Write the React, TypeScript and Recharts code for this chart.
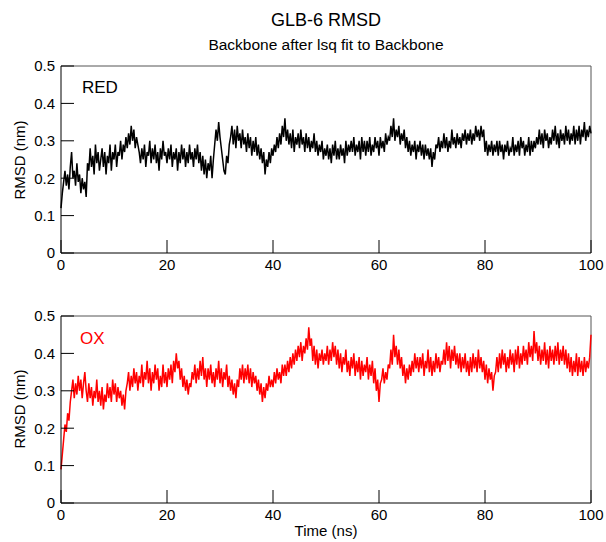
import { LineChart, Line, XAxis, YAxis, ReferenceLine } from 'recharts';

// RMSD (nm), sampled every 0.25 ns from 0 to 100 ns
const redRmsd = [
  0.12, 0.16, 0.19, 0.22, 0.18, 0.21, 0.17, 0.23, 0.27, 0.2,
  0.22, 0.18, 0.24, 0.19, 0.21, 0.16, 0.2, 0.17, 0.19, 0.15,
  0.24, 0.22, 0.28, 0.23, 0.26, 0.21, 0.29, 0.24, 0.27, 0.22,
  0.25, 0.28, 0.23, 0.27, 0.21, 0.26, 0.24, 0.29, 0.22, 0.27,
  0.25, 0.29, 0.23, 0.27, 0.26, 0.3, 0.25, 0.29, 0.27, 0.31,
  0.28, 0.32, 0.29, 0.34, 0.3, 0.33, 0.28, 0.31, 0.29, 0.27,
  0.24, 0.28, 0.25, 0.29, 0.23, 0.27, 0.26, 0.3, 0.24, 0.28,
  0.25, 0.29, 0.24, 0.27, 0.22, 0.28, 0.25, 0.3, 0.26, 0.27,
  0.24, 0.28, 0.25, 0.29, 0.23, 0.27, 0.25, 0.28, 0.22, 0.27,
  0.24, 0.29, 0.25, 0.28, 0.23, 0.27, 0.24, 0.29, 0.25, 0.27,
  0.23, 0.28, 0.25, 0.29, 0.24, 0.27, 0.22, 0.26, 0.21, 0.25,
  0.2, 0.24, 0.22, 0.26, 0.2, 0.25, 0.29, 0.33, 0.3, 0.35,
  0.31, 0.28, 0.25, 0.22, 0.21, 0.26, 0.24, 0.29, 0.31, 0.34,
  0.29, 0.33, 0.28, 0.34, 0.3, 0.32, 0.28, 0.33, 0.29, 0.31,
  0.27, 0.32, 0.28, 0.31, 0.26, 0.3, 0.27, 0.31, 0.26, 0.29,
  0.25, 0.28, 0.24, 0.27, 0.21, 0.25, 0.23, 0.27, 0.24, 0.28,
  0.26, 0.29, 0.27, 0.31, 0.28, 0.32, 0.29, 0.34, 0.31, 0.36,
  0.3, 0.33, 0.29, 0.32, 0.28, 0.33, 0.27, 0.31, 0.29, 0.32,
  0.28, 0.33, 0.29, 0.31, 0.27, 0.32, 0.28, 0.31, 0.27, 0.3,
  0.28, 0.32, 0.27, 0.3, 0.26, 0.29, 0.27, 0.3, 0.25, 0.28,
  0.26, 0.29, 0.25, 0.28, 0.24, 0.29, 0.26, 0.3, 0.25, 0.28,
  0.25, 0.29, 0.26, 0.28, 0.24, 0.3, 0.26, 0.29, 0.27, 0.3,
  0.27, 0.31, 0.26, 0.29, 0.27, 0.3, 0.25, 0.31, 0.27, 0.3,
  0.26, 0.3, 0.27, 0.31, 0.26, 0.29, 0.27, 0.31, 0.28, 0.3,
  0.26, 0.31, 0.28, 0.3, 0.27, 0.32, 0.29, 0.31, 0.3, 0.34,
  0.31, 0.36, 0.3, 0.33, 0.31, 0.34, 0.29, 0.32, 0.3, 0.33,
  0.28, 0.31, 0.27, 0.3, 0.26, 0.29, 0.27, 0.3, 0.25, 0.29,
  0.27, 0.3, 0.26, 0.29, 0.25, 0.29, 0.26, 0.28, 0.25, 0.28,
  0.23, 0.27, 0.25, 0.29, 0.28, 0.31, 0.27, 0.3, 0.28, 0.32,
  0.28, 0.31, 0.27, 0.3, 0.28, 0.33, 0.29, 0.31, 0.28, 0.32,
  0.29, 0.31, 0.28, 0.32, 0.3, 0.33, 0.29, 0.32, 0.3, 0.33,
  0.29, 0.32, 0.3, 0.34, 0.31, 0.33, 0.3, 0.34, 0.31, 0.33,
  0.27, 0.3, 0.26, 0.29, 0.27, 0.3, 0.26, 0.29, 0.27, 0.3,
  0.26, 0.3, 0.27, 0.29, 0.25, 0.29, 0.27, 0.3, 0.26, 0.28,
  0.27, 0.31, 0.26, 0.29, 0.27, 0.3, 0.26, 0.31, 0.28, 0.3,
  0.26, 0.29, 0.27, 0.31, 0.26, 0.3, 0.27, 0.3, 0.28, 0.31,
  0.29, 0.33, 0.29, 0.32, 0.28, 0.33, 0.3, 0.32, 0.28, 0.31,
  0.29, 0.33, 0.3, 0.34, 0.29, 0.32, 0.28, 0.33, 0.3, 0.32,
  0.29, 0.34, 0.3, 0.33, 0.29, 0.32, 0.3, 0.34, 0.29, 0.33,
  0.3, 0.34, 0.29, 0.33, 0.31, 0.35, 0.3, 0.33, 0.31, 0.34,
  0.32,
];

const oxRmsd = [
  0.09, 0.13, 0.17, 0.21, 0.19, 0.24, 0.22, 0.27, 0.3, 0.33,
  0.28, 0.32, 0.29, 0.34, 0.3, 0.33, 0.28, 0.32, 0.35, 0.3,
  0.27, 0.32, 0.28, 0.31, 0.26, 0.3, 0.28, 0.33, 0.27, 0.3,
  0.26, 0.31, 0.25, 0.29, 0.27, 0.32, 0.28, 0.31, 0.27, 0.33,
  0.29, 0.32, 0.27, 0.31, 0.28, 0.3, 0.26, 0.29, 0.25, 0.3,
  0.32, 0.35, 0.3, 0.34, 0.31, 0.36, 0.32, 0.35, 0.3, 0.34,
  0.32, 0.37, 0.31, 0.35, 0.33, 0.38, 0.32, 0.36, 0.3, 0.35,
  0.32, 0.37, 0.33, 0.36, 0.3, 0.34, 0.31, 0.37, 0.32, 0.35,
  0.31, 0.36, 0.33, 0.37, 0.32, 0.38, 0.35, 0.4, 0.36, 0.38,
  0.33, 0.36, 0.31, 0.34, 0.3, 0.33, 0.29, 0.32, 0.31, 0.35,
  0.33, 0.37, 0.32, 0.36, 0.33, 0.38, 0.34, 0.39, 0.33, 0.36,
  0.31, 0.36, 0.33, 0.37, 0.32, 0.35, 0.31, 0.36, 0.33, 0.38,
  0.32, 0.36, 0.31, 0.35, 0.33, 0.37, 0.31, 0.34, 0.3, 0.33,
  0.29, 0.32, 0.28, 0.33, 0.31, 0.36, 0.33, 0.37, 0.32, 0.36,
  0.33, 0.37, 0.32, 0.36, 0.31, 0.35, 0.32, 0.34, 0.3, 0.33,
  0.29, 0.32, 0.27, 0.31, 0.28, 0.32, 0.3, 0.34, 0.31, 0.33,
  0.31, 0.35, 0.32, 0.36, 0.33, 0.35, 0.32, 0.37, 0.34, 0.37,
  0.34, 0.38, 0.35, 0.39, 0.36, 0.4, 0.37, 0.41, 0.38, 0.42,
  0.39, 0.43, 0.38, 0.42, 0.4, 0.44, 0.41, 0.47, 0.42, 0.44,
  0.38, 0.42, 0.37, 0.41, 0.36, 0.4, 0.38, 0.41, 0.37, 0.4,
  0.38, 0.42, 0.37, 0.41, 0.38, 0.43, 0.39, 0.42, 0.37, 0.41,
  0.36, 0.4, 0.35, 0.39, 0.37, 0.41, 0.35, 0.38, 0.34, 0.39,
  0.36, 0.4, 0.34, 0.38, 0.35, 0.39, 0.33, 0.38, 0.34, 0.37,
  0.35, 0.39, 0.33, 0.37, 0.34, 0.38, 0.32, 0.36, 0.3, 0.33,
  0.27, 0.32, 0.33, 0.36, 0.32, 0.35, 0.33, 0.37, 0.36, 0.41,
  0.37, 0.45, 0.39, 0.42, 0.37, 0.41, 0.36, 0.39, 0.34, 0.37,
  0.32, 0.36, 0.33, 0.37, 0.34, 0.38, 0.35, 0.4, 0.36, 0.39,
  0.35, 0.39, 0.36, 0.4, 0.34, 0.38, 0.36, 0.41, 0.35, 0.39,
  0.34, 0.38, 0.35, 0.4, 0.36, 0.39, 0.35, 0.38, 0.37, 0.41,
  0.37, 0.43, 0.38, 0.42, 0.36, 0.41, 0.38, 0.42, 0.37, 0.4,
  0.36, 0.4, 0.35, 0.39, 0.36, 0.4, 0.35, 0.38, 0.34, 0.39,
  0.35, 0.4, 0.36, 0.39, 0.35, 0.41, 0.36, 0.39, 0.35, 0.38,
  0.33, 0.37, 0.32, 0.36, 0.33, 0.35, 0.3, 0.34, 0.35, 0.39,
  0.35, 0.4, 0.36, 0.41, 0.37, 0.4, 0.35, 0.39, 0.36, 0.41,
  0.37, 0.4, 0.35, 0.41, 0.37, 0.42, 0.36, 0.4, 0.37, 0.42,
  0.38, 0.41, 0.37, 0.43, 0.39, 0.42, 0.38, 0.46, 0.4, 0.43,
  0.38, 0.42, 0.37, 0.41, 0.38, 0.43, 0.37, 0.41, 0.36, 0.42,
  0.38, 0.41, 0.37, 0.42, 0.38, 0.43, 0.37, 0.41, 0.38, 0.42,
  0.37, 0.41, 0.36, 0.4, 0.35, 0.39, 0.34, 0.38, 0.35, 0.4,
  0.34, 0.39, 0.35, 0.38, 0.34, 0.39, 0.35, 0.38, 0.36, 0.39,
  0.45,
];

const timeStep = 0.25;
const xTicks = [0, 20, 40, 60, 80, 100];
const yTicks = [0, 0.1, 0.2, 0.3, 0.4, 0.5];

const redData = redRmsd.map((v, i) => ({ t: i * timeStep, rmsd: v }));
const oxData = oxRmsd.map((v, i) => ({ t: i * timeStep, rmsd: v }));

const tickStyle = { fill: '#000', fontSize: 15 };
const fmtY = (v: number) => (v === 0 ? '0' : v.toFixed(1));

function Panel({ data, color, height, margin }: any) {
  return (
      <LineChart width={606} height={height} data={data} margin={margin}>
        <XAxis
            type="number"
            dataKey="t"
            domain={[0, 100]}
            ticks={xTicks}
            height={30}
            stroke="#000"
            tickSize={-13}
            tickMargin={19}
            tick={tickStyle}
        />
        <YAxis
            type="number"
            domain={[0, 0.5]}
            ticks={yTicks}
            width={50}
            stroke="#000"
            tickSize={-13}
            tickMargin={19}
            tickFormatter={fmtY}
            tick={tickStyle}
        />
        <ReferenceLine y={0.5} stroke="#555" />
        <ReferenceLine x={100} stroke="#555" />
        <Line
            type="linear"
            dataKey="rmsd"
            stroke={color}
            strokeWidth={1.5}
            dot={false}
            isAnimationActive={false}
        />
      </LineChart>
  );
}

const abs = (style: any) => ({ position: 'absolute' as const, ...style });

export default function App() {
  return (
      <div style={abs({ left: 0, top: 0, width: 606, height: 542, background: '#fff', fontFamily: '"Liberation Sans", Arial, sans-serif', color: '#000' })}>
        <div style={abs({ left: 0, top: 10, width: 652, textAlign: 'center', fontSize: 18 })}>GLB-6 RMSD</div>
        <div style={abs({ left: 0, top: 36, width: 652, textAlign: 'center', fontSize: 15.5 })}>Backbone after lsq fit to Backbone</div>

        <div style={abs({ left: 0, top: 0 })}>
          <Panel data={redData} color="#000" height={290} margin={{ top: 66, right: 15, bottom: 7, left: 11 }} />
        </div>
        <div style={abs({ left: 0, top: 290 })}>
          <Panel data={oxData} color="#ff0000" height={252} margin={{ top: 26, right: 15, bottom: 9, left: 11 }} />
        </div>

        <div style={abs({ left: 82, top: 78, fontSize: 17 })}>RED</div>
        <div style={abs({ left: 80, top: 329, fontSize: 17, color: '#ff0000' })}>OX</div>

        <div style={abs({ left: 19, top: 160, fontSize: 15, transform: 'translate(-50%, -50%) rotate(-90deg)', whiteSpace: 'nowrap' })}>RMSD (nm)</div>
        <div style={abs({ left: 19, top: 409, fontSize: 15, transform: 'translate(-50%, -50%) rotate(-90deg)', whiteSpace: 'nowrap' })}>RMSD (nm)</div>
        <div style={abs({ left: 0, top: 522, width: 652, textAlign: 'center', fontSize: 15 })}>Time (ns)</div>
      </div>
  );
}
